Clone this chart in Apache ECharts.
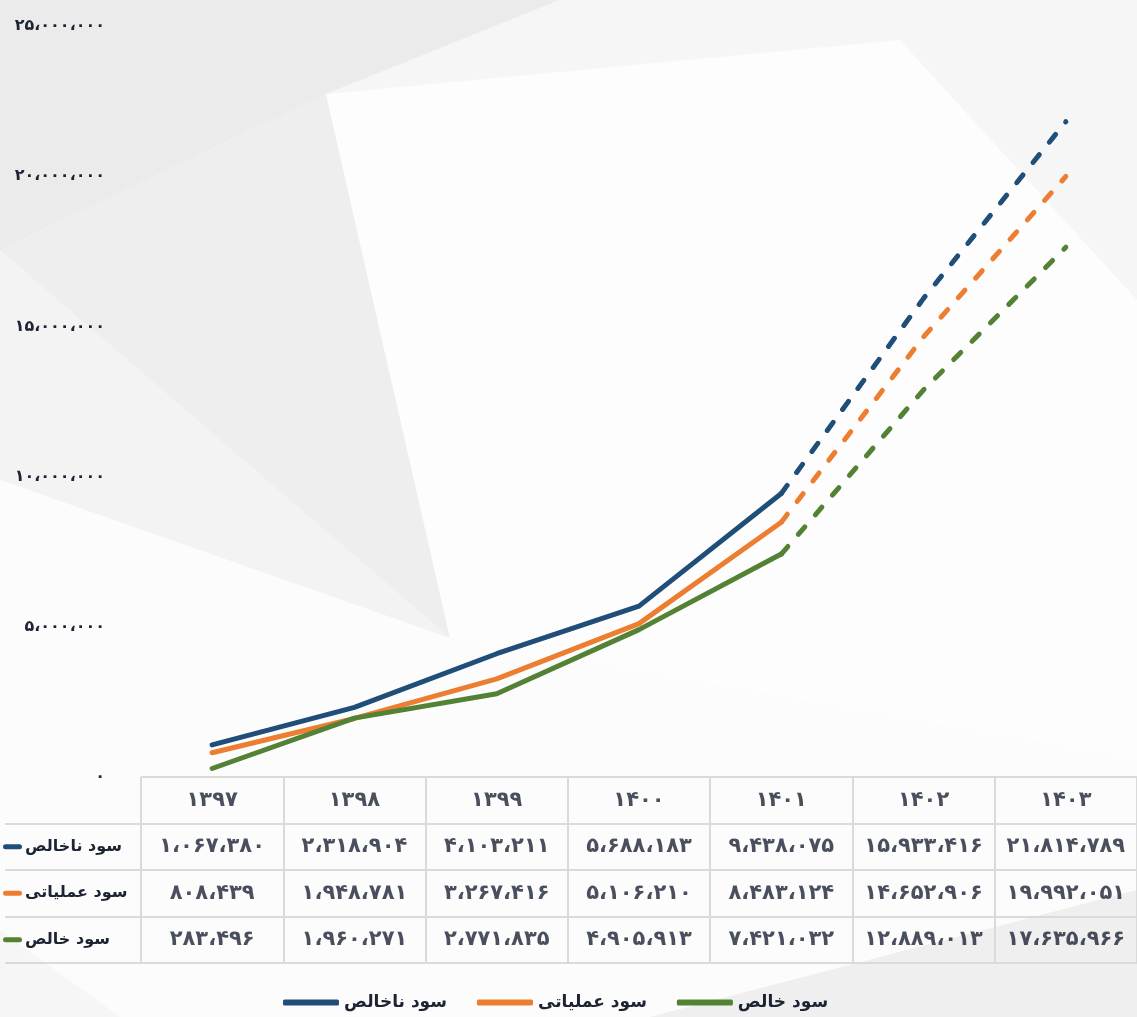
<!DOCTYPE html>
<html>
<head>
<meta charset="utf-8">
<script src="https://cdn.jsdelivr.net/npm/echarts@6/dist/echarts.min.js"></script>
<style>
	html, body { margin: 0; padding: 0; background: #f6f6f6; }
	#chart { width: 1137px; height: 1017px; }
</style>
</head>
<body>
<div id="chart"></div>
<script>
// data
const years = [1397, 1398, 1399, 1400, 1401, 1402, 1403];
const seriesNames = ['سود ناخالص', 'سود عملیاتی', 'سود خالص'];
const grossProfit = [1067380, 2318904, 4103211, 5688183, 9438075, 15933416, 21814789];
const operatingProfit = [808439, 1948781, 3267416, 5106210, 8483124, 14652906, 19992051];
const netProfit = [283496, 1960271, 2771835, 4905913, 7421032, 12889013, 17635966];
const lastActual = 4; // 1401 is the last solid point, after it dashed (forecast)
const colors = ['#1f4e79', '#ed7d31', '#548235'];

const FONT = "'DejaVu Sans', sans-serif";
const TEXT = '#1c2333';

// persian digits + arabic comma
const faDigits = '۰۱۲۳۴۵۶۷۸۹';
const toFa = s => String(s).replace(/\d/g, d => faDigits[d]);
const faNum = n => toFa(String(n).replace(/\B(?=(\d{3})+(?!\d))/g, '،'));

const allSeries = [grossProfit, operatingProfit, netProfit];

// solid part / dashed part
const solidPart = arr => arr.map((v, i) => i <= lastActual ? v : null);
const dashPart = arr => arr.map((v, i) => i >= lastActual ? v : null);

// table cells
const tableCells = [];
years.forEach((y, i) => tableCells.push({ value: [i, 0], name: toFa(y) }));
allSeries.forEach((arr, r) => {
	arr.forEach((v, i) => tableCells.push({ value: [i, r + 1], name: faNum(v) }));
});

const lineSeries = [];
allSeries.forEach((arr, k) => {
	lineSeries.push({
		name: seriesNames[k],
		type: 'line',
		data: solidPart(arr),
		showSymbol: false,
		color: colors[k],
		lineStyle: { width: 5, cap: 'round', join: 'round', color: colors[k] },
		z: 3
	});
	lineSeries.push({
		name: seriesNames[k],
		type: 'line',
		data: dashPart(arr),
		showSymbol: false,
		color: colors[k],
		lineStyle: { width: 5, cap: 'round', join: 'round', type: [10, 16], color: colors[k] },
		z: 3
	});
});

const chart = echarts.init(document.getElementById('chart'));

const option = {
	backgroundColor: '#f6f6f6',
	animation: false,
	textStyle: { fontFamily: FONT },
	// decorative low-poly background
	graphic: [
		{ type: 'polygon', z: -10, silent: true, shape: { points: [[0, 0], [560, 0], [326, 94], [0, 250]] }, style: { fill: '#ebebeb' } },
		{ type: 'polygon', z: -10, silent: true, shape: { points: [[560, 0], [1137, 0], [900, 40], [326, 94]] }, style: { fill: '#f6f6f6' } },
		{ type: 'polygon', z: -10, silent: true, shape: { points: [[0, 250], [326, 94], [450, 638]] }, style: { fill: '#eeeeee' } },
		{ type: 'polygon', z: -10, silent: true, shape: { points: [[0, 250], [450, 638], [0, 480]] }, style: { fill: '#f3f3f3' } },
		{ type: 'polygon', z: -10, silent: true, shape: { points: [[326, 94], [900, 40], [1137, 300], [1137, 760], [450, 638]] }, style: { fill: '#fdfdfd' } },
		{ type: 'polygon', z: -10, silent: true, shape: { points: [[0, 480], [450, 638], [1137, 760], [1137, 890], [650, 1017], [120, 1017], [0, 930]] }, style: { fill: '#fcfcfc' } },
		{ type: 'polygon', z: -10, silent: true, shape: { points: [[650, 1017], [1137, 890], [1137, 1017]] }, style: { fill: '#efefef' } }
	],
	legend: {
		data: seriesNames,
		left: 278,
		top: 989,
		icon: 'roundRect',
		itemWidth: 56,
		itemHeight: 6,
		itemGap: 30,
		textStyle: { fontFamily: FONT, fontSize: 17, fontWeight: 'bold', color: TEXT }
	},
	grid: [
		// plot
		{ left: 141, right: 0, top: 26, bottom: 240 },
		// table
		{ left: 141, right: 0, top: 777, height: 186 },
		// row-name column
		{ left: 0, width: 141, top: 823.5, height: 139.5 }
	],
	xAxis: [
		{
			gridIndex: 0, type: 'category', data: years, boundaryGap: true,
			axisLine: { show: false }, axisTick: { show: false }, axisLabel: { show: false }
		},
		{
			gridIndex: 1, type: 'category', data: years, boundaryGap: true,
			axisLine: { show: false }, axisTick: { show: false }, axisLabel: { show: false },
			splitLine: { show: true, lineStyle: { color: '#dadada', width: 2 } }
		},
		{
			gridIndex: 2, type: 'value', show: false
		}
	],
	yAxis: [
		{
			gridIndex: 0, type: 'value', min: 0, max: 25000000, interval: 5000000,
			axisLine: { show: false }, axisTick: { show: false }, splitLine: { show: false },
			axisLabel: {
				margin: 36,
				fontFamily: FONT, fontSize: 16, fontWeight: 'bold', color: TEXT,
				padding: [0, 0, 20, 0],
				formatter: v => faNum(v)
			}
		},
		{
			gridIndex: 1, type: 'category', data: ['header'].concat(seriesNames), inverse: true,
			axisLine: { show: false }, axisTick: { show: false }, axisLabel: { show: false },
			splitLine: { show: true, lineStyle: { color: '#dadada', width: 2 } }
		},
		{
			gridIndex: 2, type: 'category', data: seriesNames, inverse: true,
			axisLine: { show: false }, axisTick: { show: false },
			splitLine: { show: true, lineStyle: { color: '#dadada', width: 2 } },
			axisLabel: {
				inside: true,
				margin: -2,
				formatter: (v, i) => '{m' + i + '| }{t|' + v + '}',
				rich: {
					m0: { width: 19, height: 5, backgroundColor: colors[0], borderRadius: 3 },
					m1: { width: 19, height: 5, backgroundColor: colors[1], borderRadius: 3 },
					m2: { width: 19, height: 5, backgroundColor: colors[2], borderRadius: 3 },
					t: { fontFamily: FONT, fontSize: 16, fontWeight: 'bold', color: TEXT, padding: [0, 0, 0, 3] }
				}
			}
		}
	],
	series: lineSeries.concat([
		{
			type: 'scatter',
			xAxisIndex: 1,
			yAxisIndex: 1,
			symbolSize: 0,
			silent: true,
			data: tableCells,
			label: {
				show: true,
				position: 'inside',
				formatter: '{b}',
				fontFamily: FONT,
				fontSize: 21,
				fontWeight: 'bold',
				color: TEXT
			}
		}
	])
};

chart.setOption(option);
</script>
</body>
</html>
